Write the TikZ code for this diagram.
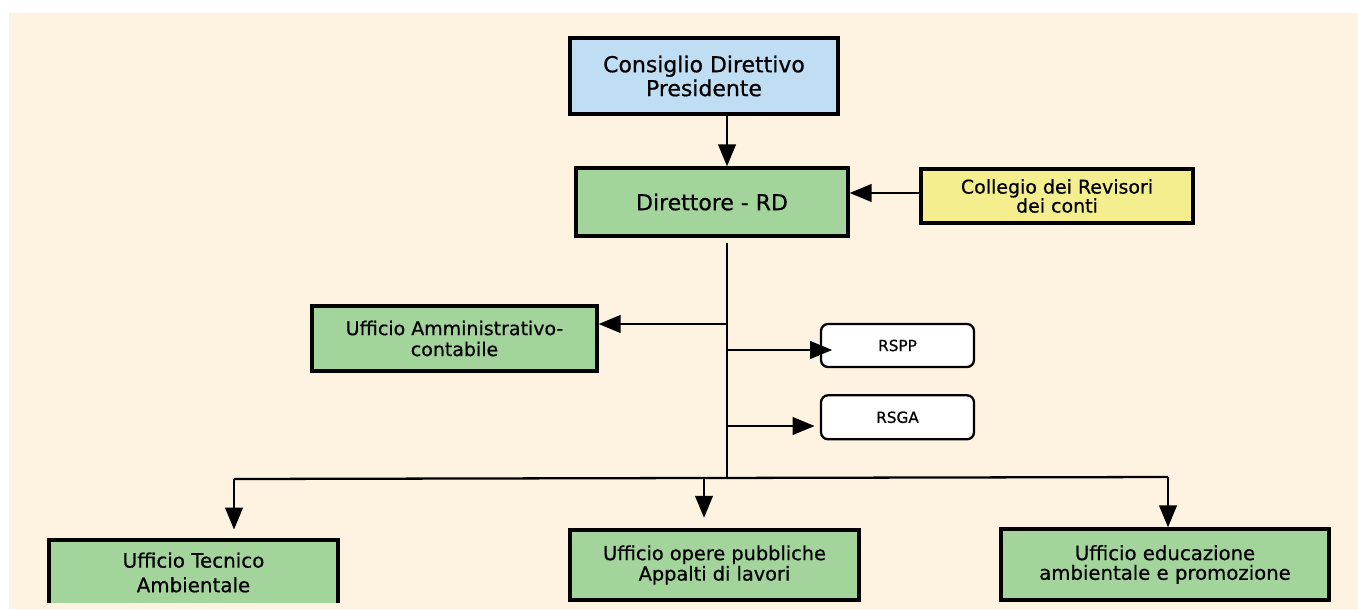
\documentclass[tikz,border=0pt]{standalone}
\usepackage{fontspec}
\setmainfont{DejaVu Sans}[BoldFont=DejaVu Sans, BoldFeatures={FakeBold=0.6}]
\usetikzlibrary{arrows.meta,positioning}
\definecolor{cream}{HTML}{FEF2E1}
\definecolor{boardblue}{HTML}{BFDDF3}
\definecolor{officegreen}{HTML}{A3D49C}
\definecolor{audityellow}{HTML}{F4EE8E}
\tikzset{
    office/.style={
           rectangle,
           draw=black, line width=1.9pt,
           fill=officegreen,
           align=center,
           inner sep=0pt,
           font=\bfseries\fontsize{11}{10.5}\selectfont
           },
    board/.style={
           office,
           fill=boardblue,
           font=\bfseries\fontsize{12.5}{13.6}\selectfont
           },
    audit/.style={
           office,
           fill=audityellow,
           font=\bfseries\fontsize{10.8}{10.8}\selectfont
           },
    staff/.style={
           rectangle, rounded corners=4pt,
           draw=black, line width=1.3pt,
           fill=white,
           inner sep=0pt,
           minimum width=3.06cm,
           font=\bfseries\fontsize{8.7}{10}\selectfont
           }
}

\begin{document}
\begin{tikzpicture}[x=0.02cm, y=-0.02cm, line width=1.3pt, >={Triangle[width=10pt,length=12.5pt]}]
   \fill[white] (0,0) rectangle (1358,609);
   \fill[cream] (9,13) rectangle (1358,609);
   \useasboundingbox (0,0) rectangle (1358,609);

   % vertici
   \node[board, minimum width=5.36cm, minimum height=1.52cm] (cons) at (704,76) {Consiglio Direttivo\\Presidente};
   \node[office, minimum width=5.44cm, minimum height=1.36cm, font=\bfseries\fontsize{12.5}{13.6}\selectfont] (dir) at (712,202) {Direttore - RD};
   \node[audit, minimum width=5.44cm, minimum height=1.08cm] (coll) at (1057,196) {Collegio dei Revisori\\dei conti};

   % staff
   \node[office, minimum width=5.7cm, minimum height=1.3cm, font=\bfseries\fontsize{10.8}{11.9}\selectfont] (amm) at (454.5,338.5) {Ufficio Amministrativo-\\contabile};
   \node[staff, minimum height=0.86cm] (rspp) at (897.5,345.5) {RSPP};
   \node[staff, minimum height=0.88cm] (rsga) [below=0.52cm of rspp] {RSGA};

   % uffici
   \begin{scope}
   \clip (0,0) rectangle (1358,602);
   \node[office, minimum width=5.78cm, minimum height=1.3cm, font=\bfseries\fontsize{11.3}{14}\selectfont] (tec) at (193.5,572.5) {Ufficio Tecnico\\Ambientale};
   \node[office, minimum width=5.78cm, minimum height=1.4cm] (ope) at (714.5,565) {Ufficio opere pubbliche\\Appalti di lavori};
   \node[office, minimum width=6.56cm, minimum height=1.42cm, font=\bfseries\fontsize{11.2}{11.2}\selectfont] (edu) at (1165,564.5) {Ufficio educazione\\ambientale e promozione};
   \end{scope}

   \coordinate (trunk) at (727,243);
   \coordinate (bus) at (727,478);
   \coordinate (tamm) at (727,324);
   \coordinate (trspp) at (727,350);
   \coordinate (trsga) at (727,426);
   \coordinate (btec) at (234,479);
   \coordinate (bope) at (704,478);
   \coordinate (bedu) at (1168,477);

   \draw[->] (cons.south -| trunk) -- (dir.north -| trunk);
   \draw[->] (coll.west |- 0,193) -- (dir.east |- 0,193);
   \draw (trunk) -- (bus);
   \draw (btec) -- (bedu);
   \path[->]
    (tamm) edge (amm.east |- tamm)
    (trspp) edge[shorten >=-7pt] (rspp.west |- trspp)
    (trsga) edge[shorten >=3pt] (rsga.west |- trsga)
    (btec) edge[shorten >=5pt] (tec.north -| btec)
    (bope) edge[shorten >=6pt] (ope.north -| bope)
    (bedu) edge (edu.north -| bedu)
       ;
\end{tikzpicture}
\end{document}
